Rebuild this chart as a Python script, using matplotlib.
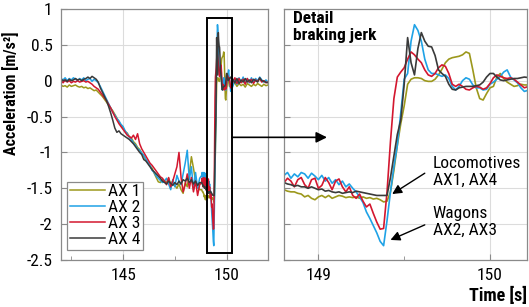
import numpy as np
import matplotlib
matplotlib.use("Agg")
import matplotlib.pyplot as plt
from matplotlib.patches import Rectangle
from matplotlib.ticker import MultipleLocator

plt.rcParams['font.family'] = ['Roboto Condensed', 'DejaVu Sans']

# sample times: coarse before the jerk, fine around it, coarse after
t = np.concatenate([np.linspace(142.0, 148.7, 68),
                    np.linspace(148.8, 150.2, 71),
                    np.linspace(150.3, 152.0, 18)])

labels = ['AX 1', 'AX 2', 'AX 3', 'AX 4']
colors = ['#9c981c', '#1fa2e6', '#d3172f', '#3a3a3a']

ax1_acc = [
    # 142.0 - 148.7
    -0.06, -0.08, -0.07, -0.09, -0.06, -0.08, -0.07, -0.06, -0.08, -0.09,
    -0.08, -0.10, -0.09, -0.11, -0.10, -0.12, -0.14, -0.13, -0.16, -0.19,
    -0.22, -0.26, -0.30, -0.34, -0.38, -0.42, -0.47, -0.52, -0.58, -0.62,
    -0.66, -0.71, -0.73, -0.78, -0.80, -0.85, -0.88, -0.93, -0.96, -1.01,
    -1.05, -1.11, -1.14, -1.19, -1.22, -1.29, -1.35, -1.41, -1.42, -1.38,
    -1.40, -1.42, -1.36, -1.44, -1.40, -1.46, -1.50, -1.44, -1.52, -1.57,
    -1.42, -1.48, -1.30, -1.06, -1.22, -1.40, -1.48, -1.52,
    # 148.80 - 150.20
    -1.52, -1.54, -1.55, -1.55, -1.57, -1.58, -1.62, -1.60, -1.64, -1.66,
    -1.62, -1.60, -1.63, -1.60, -1.64, -1.62, -1.60, -1.61, -1.63, -1.62,
    -1.63, -1.62, -1.64, -1.62, -1.64, -1.63, -1.65, -1.64, -1.66, -1.69,
    -1.68, -1.55, -1.25, -0.90, -0.60, -0.35, -0.05, 0.02, 0.04, 0.04,
    0.03, 0.00, -0.01, -0.01, 0.02, 0.08, 0.16, 0.25, 0.30, 0.32,
    0.33, 0.34, 0.36, 0.40, 0.38, 0.15, -0.10, -0.25, -0.27, -0.18,
    -0.10, -0.08, 0.05, 0.10, 0.03, -0.02, -0.05, -0.08, -0.07, -0.05,
    -0.06,
    # 150.3 - 152.0
    -0.06, -0.03, -0.08, -0.04, -0.07, -0.05, -0.09, -0.04, -0.06, -0.08,
    -0.05, -0.07, -0.04, -0.06, -0.08, -0.05, -0.07, -0.06,
]

ax2_acc = [
    0.03, 0.01, 0.04, 0.00, 0.03, 0.01, 0.04, 0.02, 0.00, 0.03,
    0.01, 0.04, 0.00, 0.02, 0.03, -0.01, 0.02, 0.00, -0.03, -0.08,
    -0.14, -0.20, -0.26, -0.32, -0.38, -0.44, -0.48, -0.53, -0.56, -0.61,
    -0.64, -0.70, -0.74, -0.79, -0.82, -0.87, -0.90, -0.95, -0.97, -1.01,
    -1.04, -1.09, -1.14, -1.18, -1.25, -1.28, -1.33, -1.36, -1.39, -1.42,
    -1.40, -1.36, -1.44, -1.52, -1.38, -1.48, -1.32, -1.40, -1.45, -1.30,
    -1.15, -0.97, -1.38, -1.20, -1.52, -1.28, -1.50, -1.36,
    -1.32, -1.28, -1.36, -1.30, -1.34, -1.28, -1.30, -1.36, -1.29, -1.33,
    -1.38, -1.32, -1.40, -1.35, -1.43, -1.38, -1.45, -1.40, -1.48, -1.44,
    -1.50, -1.55, -1.62, -1.70, -1.83, -1.92, -2.02, -2.12, -2.24, -2.30,
    -1.95, -1.55, -1.20, -0.90, -0.45, 0.02, 0.10, 0.55, 0.78, 0.70,
    0.55, 0.30, 0.15, 0.10, 0.10, 0.08, 0.06, 0.08, 0.03, -0.08,
    -0.13, -0.08, 0.00, 0.04, 0.02, -0.06, -0.10, -0.10, -0.13, -0.12,
    -0.05, -0.02, 0.02, 0.06, 0.12, 0.15, 0.05, 0.01, -0.03, -0.10,
    -0.15,
    -0.08, 0.02, -0.05, 0.04, -0.02, 0.05, -0.04, 0.03, -0.03, 0.04,
    -0.02, 0.03, 0.00, 0.05, 0.01, -0.02, 0.01, -0.02,
]

ax3_acc = [
    0.00, -0.03, 0.01, -0.02, 0.00, -0.03, -0.01, -0.02, 0.00, -0.02,
    -0.01, 0.00, -0.02, -0.01, -0.03, -0.05, -0.08, -0.10, -0.12, -0.16,
    -0.20, -0.24, -0.28, -0.33, -0.38, -0.44, -0.50, -0.55, -0.60, -0.64,
    -0.68, -0.72, -0.76, -0.78, -0.80, -0.76, -0.82, -0.74, -0.88, -0.95,
    -1.00, -1.05, -1.10, -1.15, -1.18, -1.22, -1.26, -1.30, -1.34, -1.36,
    -1.40, -1.45, -1.35, -1.48, -1.40, -1.30, -1.20, -1.00, -1.35, -1.55,
    -1.45, -1.30, -1.50, -1.35, -1.55, -1.40, -1.60, -1.45,
    -1.42, -1.36, -1.40, -1.48, -1.38, -1.35, -1.45, -1.50, -1.38, -1.36,
    -1.50, -1.46, -1.35, -1.42, -1.52, -1.40, -1.37, -1.48, -1.55, -1.48,
    -1.60, -1.64, -1.58, -1.68, -1.76, -1.72, -1.85, -1.97, -2.07, -2.06,
    -1.55, -0.85, -0.25, 0.05, 0.12, 0.18, 0.30, 0.40, 0.36, 0.30,
    0.25, 0.15, 0.08, 0.06, 0.10, 0.18, 0.22, 0.20, 0.10, -0.05,
    -0.08, -0.05, -0.08, -0.12, -0.13, -0.10, -0.08, -0.09, -0.12, -0.10,
    -0.04, 0.04, 0.08, 0.06, 0.04, 0.03, 0.04, 0.02, -0.02, -0.06,
    -0.10,
    -0.02, 0.04, -0.04, 0.03, -0.03, 0.02, -0.05, 0.03, -0.02, 0.02,
    -0.04, 0.01, -0.01, 0.03, -0.02, 0.00, -0.03, -0.02,
]

ax4_acc = [
    0.02, 0.00, 0.01, -0.01, 0.02, 0.00, 0.01, 0.03, 0.01, 0.02,
    0.00, 0.02, 0.03, 0.05, 0.03, 0.06, 0.04, 0.02, -0.02, -0.10,
    -0.16, -0.22, -0.28, -0.36, -0.45, -0.55, -0.66, -0.72, -0.70, -0.74,
    -0.76, -0.78, -0.80, -0.82, -0.85, -0.88, -0.92, -0.96, -1.00, -1.03,
    -1.10, -1.12, -1.16, -1.20, -1.24, -1.27, -1.30, -1.33, -1.36, -1.40,
    -1.42, -1.44, -1.40, -1.43, -1.46, -1.42, -1.45, -1.40, -1.44, -1.38,
    -1.40, -1.36, -1.42, -1.38, -1.44, -1.40, -1.46, -1.42,
    -1.42, -1.44, -1.45, -1.47, -1.46, -1.48, -1.48, -1.50, -1.48, -1.50,
    -1.52, -1.51, -1.54, -1.53, -1.55, -1.56, -1.55, -1.57, -1.56, -1.55,
    -1.56, -1.54, -1.55, -1.56, -1.57, -1.58, -1.59, -1.60, -1.60, -1.60,
    -1.60, -1.35, -1.05, -0.75, -0.55, -0.05, 0.60, 0.25, 0.08, 0.45,
    0.67, 0.55, 0.48, 0.47, 0.35, 0.15, 0.10, 0.06, -0.05, -0.12,
    -0.13, -0.10, -0.09, -0.08, -0.08, -0.08, -0.07, -0.06, -0.02, 0.05,
    0.10, 0.10, 0.05, 0.01, 0.00, 0.01, 0.02, 0.03, 0.03, 0.04,
    0.05,
    0.02, -0.03, 0.03, -0.04, 0.01, -0.02, 0.03, -0.02, 0.01, -0.03,
    0.02, 0.00, -0.02, 0.04, 0.00, -0.01, -0.02, -0.03,
]

series = [ax1_acc, ax2_acc, ax3_acc, ax4_acc]

fig = plt.figure(figsize=(5.29, 3.07), dpi=100)
ax1 = fig.add_axes([0.1153, 0.153, 0.3913, 0.818])
ax2 = fig.add_axes([0.537, 0.153, 0.459, 0.818])

for ax, lw in [(ax1, 1.1), (ax2, 1.2)]:
    for y, c, lab in zip(series, colors, labels):
        ax.plot(t, y, color=c, lw=lw, label=lab)
    ax.set_ylim(-2.5, 1)
    ax.yaxis.set_major_locator(MultipleLocator(0.5))
    ax.grid(True, which='major', color='#dcdcdc', lw=0.8)
    ax.set_axisbelow(True)
    for s in ax.spines.values():
        s.set_color('#8a8a8a')
        s.set_linewidth(0.9)
    ax.tick_params(which='both', direction='in', color='#8a8a8a', labelsize=12.5)
    ax.tick_params(axis='x', pad=6)
    ax.tick_params(axis='y', pad=6)
    ax.tick_params(which='major', length=4)
    ax.tick_params(which='minor', length=3)

ax1.set_xlim(142, 152)
ax1.xaxis.set_major_locator(MultipleLocator(5))
ax1.xaxis.set_minor_locator(MultipleLocator(2.5))
ax1.set_yticks([-2.5, -2, -1.5, -1, -0.5, 0, 0.5, 1])
ax1.set_yticklabels(['-2.5', '-2', '-1.5', '-1', '-0.5', '0', '0.5', '1'])
ax1.set_ylabel('Acceleration [m/s²]', fontsize=11.5, fontweight='bold')
ax1.yaxis.set_label_coords(-0.205, 0.665)

leg = ax1.legend(loc='lower left', bbox_to_anchor=(0.03, 0.04), fontsize=12.5,
                 frameon=True, fancybox=False, handlelength=2.0, handletextpad=0.2,
                 labelspacing=0.05, borderpad=0.15, borderaxespad=0, framealpha=1)
leg.get_frame().set_edgecolor('#8a8a8a')
leg.get_frame().set_linewidth(0.9)

ax1.add_patch(Rectangle((149.05, -2.4), 1.2, 3.28, fill=False, ec='black', lw=1.4, zorder=5))

ax2.set_xlim(148.8, 150.215)
ax2.xaxis.set_major_locator(MultipleLocator(1))
ax2.xaxis.set_minor_locator(MultipleLocator(0.5))
ax2.set_yticklabels([])

ax2.text(0.035, 0.99, 'Detail\nbraking jerk', transform=ax2.transAxes, ha='left', va='top',
         fontsize=12.5, fontweight='bold', linespacing=1.1)
ax2.text(149.665, -1.05, 'Locomotives\nAX1, AX4', ha='left', va='top', fontsize=12.5, linespacing=1.15)
ax2.text(149.665, -1.75, 'Wagons\nAX2, AX3', ha='left', va='top', fontsize=12.5, linespacing=1.15)
ax2.annotate('', xy=(149.43, -1.58), xytext=(149.62, -1.29),
             arrowprops=dict(arrowstyle='-|>', color='black', lw=1.0, mutation_scale=14,
                             shrinkA=0, shrinkB=0))
ax2.annotate('', xy=(149.42, -2.22), xytext=(149.62, -2.01),
             arrowprops=dict(arrowstyle='-|>', color='black', lw=1.0, mutation_scale=14,
                             shrinkA=0, shrinkB=0))

# arrow from zoom box to detail panel
ax2.annotate('', xy=(149.05, -0.79), xycoords='data',
             xytext=(150.25, -0.79), textcoords=ax1.transData,
             arrowprops=dict(arrowstyle='-|>', color='black', lw=1.2, mutation_scale=16,
                             shrinkA=0, shrinkB=0), annotation_clip=False)

fig.text(0.997, 0.008, 'Time [s]', ha='right', va='bottom', fontsize=13, fontweight='bold')

fig.savefig('out.png', dpi=100)
